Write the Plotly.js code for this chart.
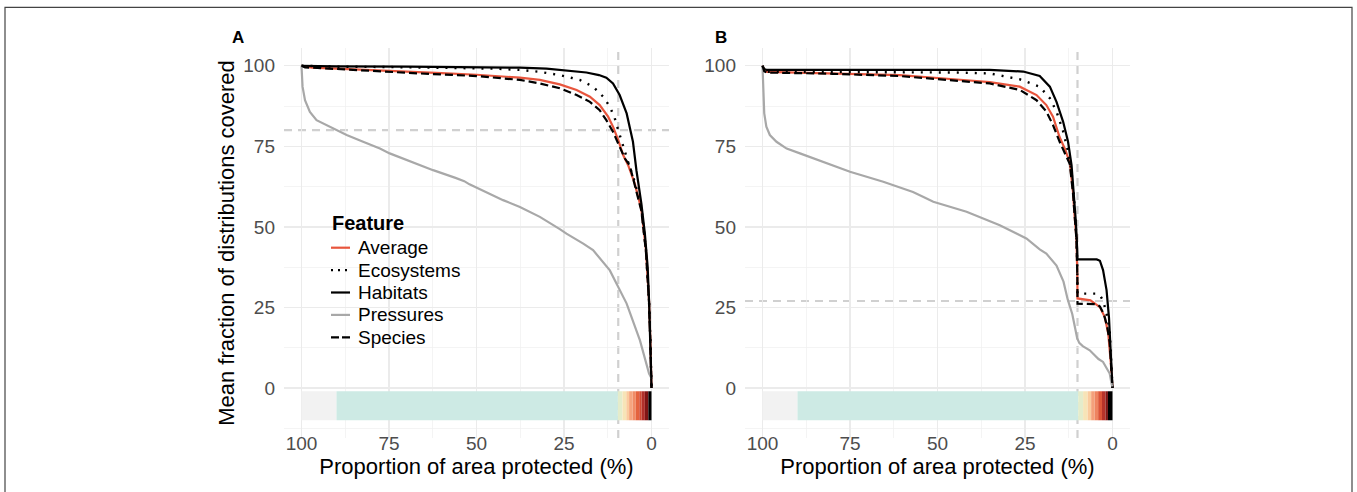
<!DOCTYPE html>
<html>
<head>
<meta charset="utf-8">
<script src="https://cdn.plot.ly/plotly-3.0.1.min.js"></script>
<style>html,body{margin:0;padding:0;background:#fff;}#chart{width:1357px;height:492px;}</style>
</head>
<body>
<div id="chart"></div>
<script>
// ---------- Panel A data (x = proportion of area protected %, y = mean fraction covered %) ----------
const aAvgX = [100, 97, 90, 80, 70, 60, 50, 40, 37.6, 31.9, 26.2, 21.4, 17.6, 14.8, 12.4, 11, 9.5, 8.1, 6.7, 4.8, 2.9, 1.6, 0.7, 0.3, 0];
const aAvgY = [100, 99.4, 99.1, 98.7, 98.2, 97.7, 97.2, 96.5, 96.3, 95.6, 94.2, 92.5, 90.4, 87.8, 84.2, 81.1, 76.9, 72.3, 69.2, 63.5, 55.5, 43, 27, 14, 0];
const aEcoX = [100, 90, 75, 56.7, 45, 37.6, 31.9, 26.2, 20.5, 16.7, 13.8, 11.9, 10.5, 9.5, 8.1, 6.7, 4.8, 2.9, 1.6, 0.7, 0.3, 0];
const aEcoY = [100, 99.7, 99.6, 99.4, 99.1, 98.7, 98.1, 97.1, 95.6, 93.5, 90.4, 87.3, 83.7, 80, 74.8, 70.2, 64, 56, 43, 27, 14, 0];
const aHabX = [100, 90, 70, 50, 37.6, 30, 25.3, 18.6, 15, 12.9, 11, 9.1, 7.1, 5.3, 4.3, 2.9, 1.9, 1.1, 0.7, 0.3, 0];
const aHabY = [100, 99.8, 99.7, 99.6, 99.4, 99.1, 98.7, 97.9, 97.1, 96.3, 94.5, 90.9, 85.2, 76.4, 67.5, 57.3, 48, 37.6, 27.2, 13.8, 0];
const aPreX = [100, 99.7, 99, 97.6, 95.7, 92.9, 90, 87.1, 82.4, 77.6, 74.8, 70, 62.4, 56, 53.5, 52, 50, 42.4, 37.6, 31.9, 26.2, 24.3, 19.5, 16.7, 11.9, 7.1, 3.3, 0.7, 0];
const aPreY = [100, 93.5, 89.3, 85.7, 83.1, 81.6, 80.2, 78.5, 76.4, 74.3, 72.8, 70.7, 67.6, 65.2, 64.2, 63.2, 62.2, 58.3, 56.2, 53.1, 49.3, 47.9, 44.8, 42.8, 36.5, 26.2, 14.8, 4.5, 3];
const aSpeX = [100, 99, 90, 85.2, 75, 66.2, 50, 40, 37.6, 31.9, 26.2, 21.4, 17.6, 14.8, 12.9, 11, 9.5, 7.6, 6.2, 4.8, 2.9, 1.6, 0.7, 0.3, 0];
const aSpeY = [100, 99.5, 99, 98.7, 98.2, 97.6, 96.8, 95.9, 95.6, 94.5, 93, 90.9, 88.8, 86.2, 83.1, 79.5, 75.9, 71.2, 69, 63, 55, 42.5, 26.5, 13.5, 0];

// ---------- Panel B data ----------
const bAvgX = [100, 99.5, 98.8, 79.8, 60.8, 41.7, 35.1, 26.5, 21.7, 18.9, 17, 15.1, 13.6, 12.2, 11.3, 10.8, 10.3, 10.05, 10, 6.3, 3.6, 2.2, 1.2, 0.5, 0];
const bAvgY = [100, 98.5, 98.1, 97.6, 97.1, 95.5, 94.9, 93.5, 90.9, 87.8, 84.2, 77.8, 74.2, 70, 61, 53, 46.5, 35, 27.8, 27.2, 25.1, 22, 16.8, 8, 0];
const bEcoX = [100, 99.5, 98.8, 89.3, 60.8, 45, 35.1, 26.5, 20.8, 17.9, 16, 14.1, 12.7, 11.7, 11, 10.5, 10.2, 10.05, 10, 4.5, 3.6, 2.7, 1.7, 0.8, 0.4, 0];
const bEcoY = [100, 98.5, 98.1, 98.1, 98.1, 97.9, 97.6, 95.8, 93.5, 89.9, 85.8, 79.6, 73.5, 67, 59, 51, 45, 35, 29.3, 29.3, 28.8, 27.2, 23.1, 17.9, 9, 0];
const bHabX = [100, 99.5, 98.8, 90, 70, 50, 35.1, 25.5, 20.8, 17.9, 16, 14.1, 12.7, 11.7, 11, 10.5, 10.2, 10.05, 10, 4.5, 3.6, 2.7, 1.7, 1, 0.6, 0.3, 0];
const bHabY = [100, 99, 98.7, 98.7, 98.7, 98.7, 98.7, 98.2, 96.8, 93.5, 88.8, 82.6, 76.4, 69.2, 60, 52, 46, 41, 39.9, 39.9, 39.5, 36.6, 30.4, 21.8, 11.5, 3, 0];
const bPreX = [100, 99.8, 99.5, 98.9, 97.9, 96, 93.1, 89.3, 82.7, 75, 65.5, 57, 54, 51.2, 41.7, 32.2, 24.6, 20.8, 18.9, 16, 14, 12.8, 11.5, 10.6, 10.1, 9.5, 8.5, 6.5, 4, 2.7, 1.7, 0.8, 0.2, 0];
const bPreY = [100, 93.5, 85.2, 81.1, 78.5, 76.4, 74.3, 72.8, 70.2, 67.1, 64, 60.8, 59.3, 57.8, 54.7, 50.5, 46.4, 43, 41.7, 38, 33, 27.5, 23, 18.5, 15.5, 14, 13, 11.7, 9, 8.1, 6, 4.5, 1, 0.5];
const bSpeX = [100, 99.5, 98.8, 80, 60.8, 41.7, 35.1, 26.5, 21.7, 18.9, 17, 15.1, 13.6, 12.2, 11.3, 10.8, 10.3, 10.05, 10, 4.5, 3.6, 2.5, 1.5, 0.8, 0.3, 0];
const bSpeY = [100, 98.3, 97.9, 97.5, 96.8, 95, 94.5, 92.5, 89.3, 85.8, 81.6, 76.4, 72.8, 69.5, 60.5, 52.5, 46, 35, 26.2, 26, 25.3, 23, 19, 14, 6, 0];

// ---------- Reference (target) lines ----------
const refXA = 9.5, refYA = 80;
const refXB = 10, refYB = 27;

// ---------- Priority colour strip (bin edges along x, colours) ----------
const stripEdgesA = [100, 90, 9.6, 8.3, 7.2, 6.4, 5.4, 4.5, 3.5, 2.8, 1.9, 0.9, 0];
const stripColorsA = ['#F2F2F2', '#CDEAE4', '#E4ECCB', '#F7E4B7', '#FACB9E', '#F6A57F', '#F18C66', '#E4633F', '#D14A33', '#B0302A', '#801515', '#000000'];
const stripEdgesB = [100, 90, 9.8, 8.4, 7.1, 6.1, 5.1, 4.1, 3.0, 2.0, 1.3, 0];
const stripColorsB = ['#F2F2F2', '#CDEAE4', '#E4ECCB', '#F7E4B7', '#FACB9E', '#F4A07A', '#EE8460', '#DC5538', '#B8332A', '#801515', '#000000'];
const stripBottom = -10, stripTop = -1;

const featureNames = ['Average', 'Ecosystems', 'Habitats', 'Pressures', 'Species'];
const tickVals = [0, 25, 50, 75, 100];

// ---------- styles ----------
const styles = {
  Average: {color: '#E8553D', dash: 'solid', width: 2.2},
  Ecosystems: {color: '#000000', dash: '2px,7px', width: 2.4},
  Habitats: {color: '#000000', dash: 'solid', width: 2.2},
  Pressures: {color: '#A8A8A8', dash: 'solid', width: 2.2},
  Species: {color: '#000000', dash: '8px,4px', width: 2.2}
};
const legendDash = {Average: 'solid', Ecosystems: '2px,5px', Habitats: 'solid', Pressures: 'solid', Species: '8px,3px'};

const panelA = {Average: [aAvgX, aAvgY], Ecosystems: [aEcoX, aEcoY], Habitats: [aHabX, aHabY], Pressures: [aPreX, aPreY], Species: [aSpeX, aSpeY]};
const panelB = {Average: [bAvgX, bAvgY], Ecosystems: [bEcoX, bEcoY], Habitats: [bHabX, bHabY], Pressures: [bPreX, bPreY], Species: [bSpeX, bSpeY]};

function stripTrace(edges, colors, xa, ya) {
  const base = [], len = [], ys = [];
  for (let i = 0; i < colors.length; i++) {
    const lo = Math.min(edges[i], edges[i + 1]);
    const hi = Math.max(edges[i], edges[i + 1]);
    base.push(lo); len.push(hi - lo); ys.push((stripBottom + stripTop) / 2);
  }
  return {type: 'bar', orientation: 'h', x: len, base: base, y: ys, width: stripTop - stripBottom,
    marker: {color: colors, line: {width: 0}}, xaxis: xa, yaxis: ya, showlegend: false, hoverinfo: 'skip'};
}

const traces = [];
traces.push(stripTrace(stripEdgesA, stripColorsA, 'x', 'y'));
traces.push(stripTrace(stripEdgesB, stripColorsB, 'x2', 'y2'));
featureNames.forEach(function (n) {
  const s = styles[n];
  traces.push({type: 'scatter', mode: 'lines', name: n, x: panelA[n][0], y: panelA[n][1], xaxis: 'x', yaxis: 'y',
    line: {color: s.color, dash: s.dash, width: s.width}, showlegend: false});
});
featureNames.forEach(function (n) {
  const s = styles[n];
  traces.push({type: 'scatter', mode: 'lines', name: n, x: panelB[n][0], y: panelB[n][1], xaxis: 'x2', yaxis: 'y2',
    line: {color: s.color, dash: s.dash, width: s.width}, showlegend: false});
});

const W = 1357, H = 492;
const mL = 284, mR = 227, mT = 48, mB = 54;
const plotW = W - mL - mR, plotH = H - mT - mB;
const px = v => (v - mL) / plotW;          // page px -> paper x
const py = v => 1 - (v - mT) / plotH;      // page px -> paper y

const fontFam = '"Liberation Sans", Arial, Helvetica, sans-serif';
function xAxis(domain, showTitle) {
  return {domain: domain, range: [105, -5], tickvals: tickVals, ticktext: tickVals.map(String),
    showgrid: true, gridcolor: '#EBEBEB', gridwidth: 1.3, zeroline: false, showline: false, ticks: '',
    minor: {dtick: 12.5, tick0: 0, showgrid: true, gridcolor: '#EFEFEF', gridwidth: 0.7},
    tickfont: {family: fontFam, size: 19, color: '#4D4D4D'}, ticklabelstandoff: -8,
    title: {text: showTitle ? 'Proportion of area protected (%)' : '', font: {family: fontFam, size: 22, color: '#000'}, standoff: 0},
    fixedrange: true};
}
function yAxis(anchor, showTitle) {
  return {anchor: anchor, domain: [0, 1], range: [-15.5, 105.5], tickvals: tickVals, ticktext: tickVals.map(String),
    showgrid: true, gridcolor: '#EBEBEB', gridwidth: 1.3, zeroline: false, showline: false, ticks: '',
    minor: {dtick: 12.5, tick0: 0, showgrid: true, gridcolor: '#EFEFEF', gridwidth: 0.7},
    tickfont: {family: fontFam, size: 19, color: '#4D4D4D'}, ticklabelstandoff: 8,
    title: {text: showTitle ? 'Mean fraction of distributions covered' : '', font: {family: fontFam, size: 22, color: '#000'}, standoff: 2},
    fixedrange: true};
}

const refLine = {color: '#D0D0D0', width: 2.2, dash: '8px,6px'};
const shapes = [
  {type: 'line', xref: 'x', yref: 'y domain', x0: refXA, x1: refXA, y0: 0, y1: 1, line: refLine, layer: 'below'},
  {type: 'line', xref: 'x domain', yref: 'y', x0: 0, x1: 1, y0: refYA, y1: refYA, line: refLine, layer: 'below'},
  {type: 'line', xref: 'x2', yref: 'y2 domain', x0: refXB, x1: refXB, y0: 0, y1: 1, line: refLine, layer: 'below'},
  {type: 'line', xref: 'x2 domain', yref: 'y2', x0: 0, x1: 1, y0: refYB, y1: refYB, line: refLine, layer: 'below'},
  {type: 'rect', xref: 'paper', yref: 'paper', x0: px(5), x1: px(1352), y0: py(520), y1: py(7.3), line: {color: '#444', width: 1.2}, fillcolor: 'rgba(0,0,0,0)', layer: 'above'}
];

const annotations = [
  {text: '<b>A</b>', xref: 'paper', yref: 'paper', x: px(238), y: py(37), xanchor: 'center', yanchor: 'middle', showarrow: false, font: {family: fontFam, size: 17, color: '#000'}},
  {text: '<b>B</b>', xref: 'paper', yref: 'paper', x: px(721), y: py(37), xanchor: 'center', yanchor: 'middle', showarrow: false, font: {family: fontFam, size: 17, color: '#000'}},
  {text: '<b>Feature</b>', xref: 'paper', yref: 'paper', x: px(330), y: py(223), xanchor: 'left', yanchor: 'middle', showarrow: false, font: {family: fontFam, size: 20, color: '#000'}}
];
// hand-built legend (key line + label) inside panel A
const legTop = 247.7, legStep = 22.4;
featureNames.forEach(function (n, i) {
  const yy = py(legTop + i * legStep);
  shapes.push({type: 'line', xref: 'paper', yref: 'paper', x0: px(331), x1: px(350), y0: yy, y1: yy,
    line: {color: styles[n].color, width: styles[n].width, dash: legendDash[n]}, layer: 'above'});
  annotations.push({text: n, xref: 'paper', yref: 'paper', x: px(356), y: yy, xanchor: 'left', yanchor: 'middle',
    showarrow: false, font: {family: fontFam, size: 19, color: '#000'}});
});

const layout = {
  width: W, height: H, margin: {l: mL, r: mR, t: mT, b: mB, pad: 0},
  paper_bgcolor: '#fff', plot_bgcolor: '#fff',
  font: {family: fontFam, color: '#000'},
  barmode: 'overlay',
  xaxis: xAxis([0, px(669)], true),
  xaxis2: Object.assign(xAxis([px(745), 1], true), {anchor: 'y2'}),
  yaxis: yAxis('x', true),
  yaxis2: yAxis('x2', false),
  showlegend: false,
  shapes: shapes,
  annotations: annotations
};

Plotly.newPlot('chart', traces, layout, {staticPlot: true, displayModeBar: false});
</script>
</body>
</html>
